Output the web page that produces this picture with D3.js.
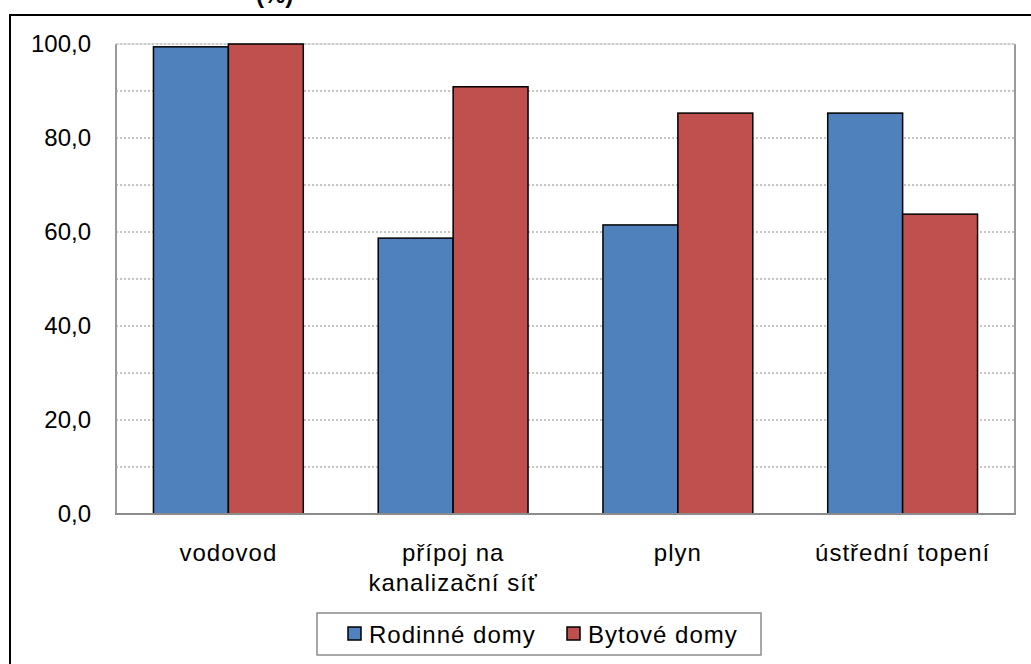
<!DOCTYPE html>
<html><head><meta charset="utf-8">
<script src="https://cdn.jsdelivr.net/npm/d3@7"></script>
<style>body{margin:0;background:#fff}svg{display:block;font-family:"Liberation Sans",Arial,sans-serif}</style>
</head><body>
<svg id="c" width="1031" height="664"></svg>
<script>
const categories = [["vodovod"], ["přípoj na", "kanalizační síť"], ["plyn"], ["ústřední topení"]];
const seriesNames = ["Rodinné domy", "Bytové domy"];
const rodinne = [99.4, 58.7, 61.5, 85.3];
const bytove = [100.0, 90.9, 85.3, 63.8];
const yTicks = [0, 20, 40, 60, 80, 100];
const gridTicks = [10, 20, 30, 40, 50, 60, 70, 80, 90, 100];
const colors = ["#4F81BD", "#C0504D"];

const svg = d3.select("#c");
// partially visible title
svg.append("text").attr("x", 256).attr("y", 3).attr("font-size", 24).attr("font-weight", "bold").text("(%)");
// outer frame
svg.append("rect").attr("x", 10).attr("y", 15).attr("width", 1100).attr("height", 800)
  .attr("fill", "none").attr("stroke", "#000").attr("stroke-width", 2);

const L = 116, R = 1015, T = 44, B = 514;
const x = d3.scaleBand().domain(d3.range(categories.length)).range([L, R]).paddingInner(0).paddingOuter(0);
const y = d3.scaleLinear().domain([0, 100]).range([B, T]);
const inner = d3.scaleBand().domain([0, 1]).range([0, x.bandwidth()]).paddingInner(0).paddingOuter(0.5);

// gridlines
svg.append("g").selectAll("line").data(gridTicks).join("line")
  .attr("x1", L).attr("x2", R).attr("y1", d => y(d)).attr("y2", d => y(d))
  .attr("stroke", "#8c8c8c").attr("stroke-width", 1.2).attr("stroke-dasharray", "2,2");
// plot border
svg.append("line").attr("x1", L).attr("x2", L).attr("y1", T).attr("y2", B).attr("stroke", "#9a9a9a").attr("stroke-width", 2);
svg.append("line").attr("x1", R).attr("x2", R).attr("y1", T).attr("y2", B).attr("stroke", "#9a9a9a").attr("stroke-width", 2);
svg.append("line").attr("x1", L).attr("x2", R).attr("y1", T).attr("y2", T).attr("stroke", "#cfcfcf").attr("stroke-width", 1);

const data = [rodinne, bytove];
const g = svg.append("g");
data.forEach((vals, s) => {
  g.selectAll(".b" + s).data(vals).join("rect")
    .attr("x", (d, i) => x(i) + inner(s))
    .attr("y", d => y(d))
    .attr("width", inner.bandwidth())
    .attr("height", d => B - y(d))
    .attr("fill", colors[s]).attr("stroke", "#000").attr("stroke-width", 1.5);
});
svg.append("line").attr("x1", L - 1).attr("x2", R + 1).attr("y1", B).attr("y2", B).attr("stroke", "#8c8c8c").attr("stroke-width", 2);

// y axis labels
const yAxis = d3.axisLeft(y).tickValues(yTicks).tickSize(0).tickPadding(0)
  .tickFormat(d => d3.format(".1f")(d).replace(".", ","));
const ya = svg.append("g").attr("transform", `translate(91,0)`).call(yAxis);
ya.select(".domain").remove();
ya.selectAll("text").attr("font-size", 24).attr("fill", "#000").attr("font-family", "Liberation Sans, Arial, sans-serif");

// x labels
const xl = svg.append("g");
categories.forEach((lines, i) => {
  const t = xl.append("text").attr("x", x(i) + x.bandwidth() / 2).attr("y", 561)
    .attr("text-anchor", "middle").attr("font-size", 24).attr("letter-spacing", 1).attr("fill", "#000");
  lines.forEach((ln, j) => t.append("tspan").attr("x", x(i) + x.bandwidth() / 2).attr("dy", j === 0 ? 0 : 30).text(ln));
});

// legend
const lg = svg.append("g");
lg.append("rect").attr("x", 317).attr("y", 613).attr("width", 444).attr("height", 42)
  .attr("fill", "#fff").attr("stroke", "#8c8c8c").attr("stroke-width", 1.5);
const lx = [348, 567];
seriesNames.forEach((n, i) => {
  lg.append("rect").attr("x", lx[i]).attr("y", 627).attr("width", 13).attr("height", 13)
    .attr("fill", colors[i]).attr("stroke", "#000").attr("stroke-width", 1.5);
  lg.append("text").attr("x", lx[i] + 21).attr("y", 643).attr("font-size", 24).attr("letter-spacing", 1).attr("fill", "#000").text(n);
});
</script>
</body></html>
